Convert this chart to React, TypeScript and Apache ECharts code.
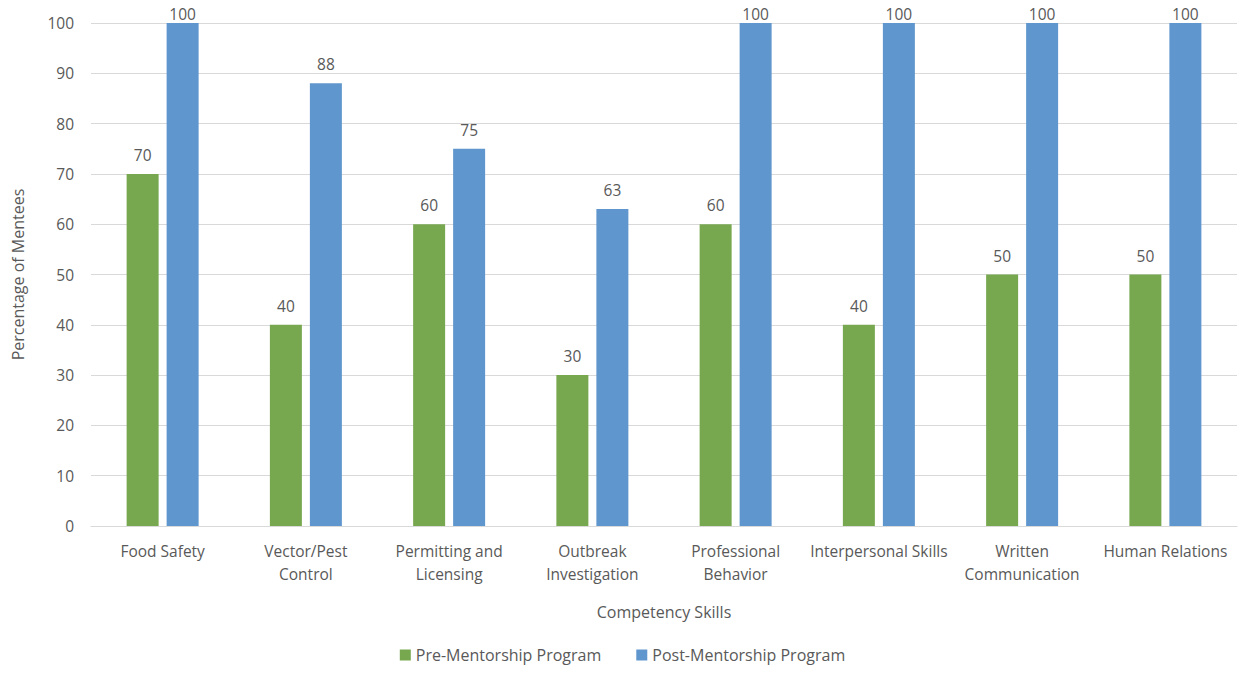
import React, { useEffect, useRef } from "react";
import * as echarts from "echarts";

const categories = [
  "Food Safety",
  "Vector/Pest\nControl",
  "Permitting and\nLicensing",
  "Outbreak\nInvestigation",
  "Professional\nBehavior",
  "Interpersonal Skills",
  "Written\nCommunication",
  "Human Relations",
];
const preValues = [70, 40, 60, 30, 60, 40, 50, 50];
const postValues = [100, 88, 75, 63, 100, 100, 100, 100];
const seriesNames = ["Pre-Mentorship Program", "Post-Mentorship Program"];

const FONT = "'Open Sans', 'Noto Sans', sans-serif";
const TEXT = "#595959";

const withLabels = (vals: number[]) =>
  vals.map((v) => (v >= 100 ? { value: v, label: { distance: 1 } } : v));

export default function App() {
  const ref = useRef<HTMLDivElement>(null);
  useEffect(() => {
    const chart = echarts.init(ref.current!, null, { renderer: "svg" });
    const label = { show: true, position: "top", distance: 11, color: TEXT, fontSize: 15.5, fontFamily: FONT };
    chart.setOption({
      animation: false,
      textStyle: { fontFamily: FONT },
      grid: { left: 91, right: 8, top: 23, bottom: 147, containLabel: false },
      legend: {
        bottom: 5,
        left: "center",
        itemWidth: 11,
        itemHeight: 11,
        itemGap: 35,
        icon: "rect",
        textStyle: { color: TEXT, fontSize: 16, fontFamily: FONT },
        data: seriesNames,
      },
      xAxis: {
        type: "category",
        data: categories,
        name: "Competency Skills",
        nameLocation: "middle",
        nameGap: 78,
        nameTextStyle: { color: TEXT, fontSize: 16, fontFamily: FONT },
        axisLine: { lineStyle: { color: "#d9d9d9" } },
        axisTick: { show: false },
        axisLabel: { color: TEXT, fontSize: 15.5, margin: 13, lineHeight: 23, interval: 0, fontFamily: FONT },
      },
      yAxis: {
        type: "value",
        min: 0,
        max: 100,
        interval: 10,
        name: "Percentage of Mentees",
        nameLocation: "middle",
        nameGap: 65,
        nameTextStyle: { color: TEXT, fontSize: 16, fontFamily: FONT },
        axisLine: { show: false },
        axisTick: { show: false },
        axisLabel: { color: TEXT, fontSize: 15.5, margin: 17, fontFamily: FONT },
        splitLine: { lineStyle: { color: "#d9d9d9", width: 1 } },
      },
      series: [
        {
          name: seriesNames[0],
          type: "bar",
          data: withLabels(preValues),
          barWidth: 32,
          barGap: "25%",
          itemStyle: { color: "#77a84f" },
          label,
        },
        {
          name: seriesNames[1],
          type: "bar",
          data: withLabels(postValues),
          barWidth: 32,
          barGap: "25%",
          itemStyle: { color: "#5f96cd" },
          label,
        },
      ],
    });
    return () => chart.dispose();
  }, []);
  return <div ref={ref} style={{ width: 1245, height: 673, position: "absolute", left: 0, top: 0 }} />;
}
